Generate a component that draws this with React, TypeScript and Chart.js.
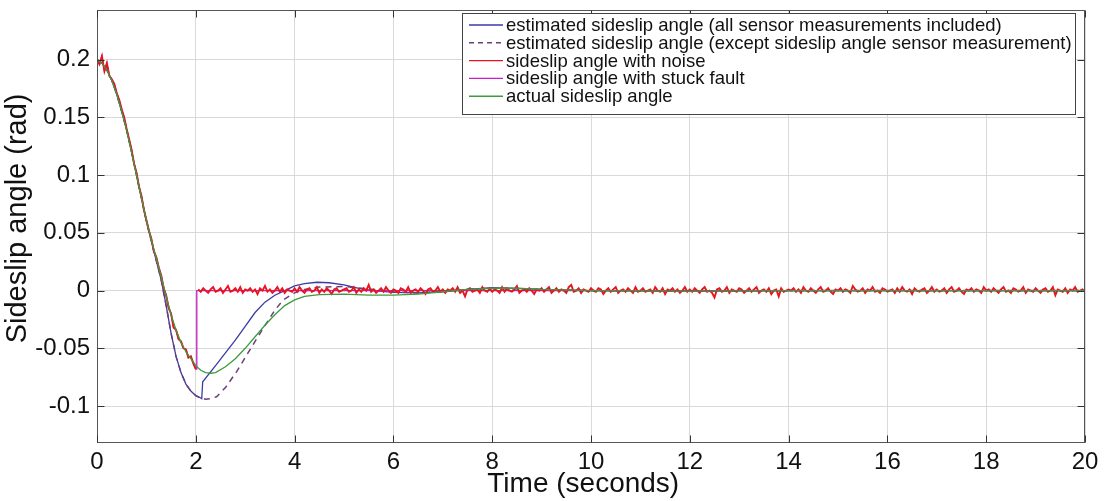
import React, { useEffect, useRef } from "react";
import { Chart, registerables } from "chart.js";

Chart.register(...registerables);

const FONT = "'Liberation Sans', Arial, Helvetica, sans-serif";

// x-axis ticks (seconds) and y-axis range (rad)
const xTicks = [0, 2, 4, 6, 8, 10, 12, 14, 16, 18, 20];
const yMin = -0.132;
const yMax = 0.243;

// actual sideslip angle
const actualTime = [0, 0.1, 0.2, 0.3, 0.4, 0.5, 0.6, 0.7, 0.8, 0.9, 1.0, 1.1, 1.2, 1.3, 1.4, 1.5, 1.6, 1.7, 1.8, 1.9, 2.0, 2.1, 2.2, 2.3, 2.4, 2.6, 2.8, 3.0, 3.2, 3.4, 3.6, 3.8, 4.0, 4.2, 4.5, 5.0, 5.5, 6.0, 6.5, 7.0, 7.5, 8.0, 8.5, 9.0, 10, 12, 14, 16, 20];
const actualValues = [0.2, 0.197, 0.191, 0.182, 0.170, 0.155, 0.139, 0.120, 0.100, 0.080, 0.061, 0.044, 0.028, 0.012, -0.005, -0.021, -0.034, -0.045, -0.053, -0.059, -0.065, -0.069, -0.071, -0.0716, -0.071, -0.066, -0.059, -0.050, -0.040, -0.030, -0.021, -0.013, -0.008, -0.005, -0.0035, -0.003, -0.004, -0.004, -0.003, -0.001, 0.001, 0.002, 0.002, 0.001, 0, -0.0005, 0, 0, 0];

// estimated sideslip angle (all sensor measurements included)
const estAllTime = [0, 0.1, 0.2, 0.3, 0.4, 0.5, 0.6, 0.7, 0.8, 0.9, 1.0, 1.1, 1.2, 1.3, 1.4, 1.5, 1.6, 1.7, 1.8, 1.9, 2.0, 2.1, 2.12, 2.14, 2.4, 2.6, 2.8, 3.0, 3.2, 3.4, 3.6, 3.8, 4.0, 4.2, 4.45, 4.7, 5.0, 5.3, 5.6, 6.0, 6.5, 7.0, 7.5, 8.0, 8.5, 9.0, 10, 12, 14, 20];
const estAllValues = [0.2, 0.197, 0.191, 0.182, 0.170, 0.155, 0.139, 0.120, 0.100, 0.080, 0.060, 0.043, 0.026, 0.009, -0.013, -0.037, -0.057, -0.071, -0.081, -0.087, -0.091, -0.093, -0.0935, -0.079, -0.065, -0.054, -0.043, -0.031, -0.019, -0.010, -0.004, 0.0, 0.004, 0.006, 0.0072, 0.0068, 0.005, 0.002, 0.0, -0.0015, -0.002, -0.001, 0.001, 0.0025, 0.002, 0.001, 0, -0.0005, 0, 0];

// estimated sideslip angle (except sideslip angle sensor measurement)
const estExTime = [0, 0.1, 0.2, 0.3, 0.4, 0.5, 0.6, 0.7, 0.8, 0.9, 1.0, 1.1, 1.2, 1.3, 1.4, 1.5, 1.6, 1.7, 1.8, 1.9, 2.0, 2.1, 2.2, 2.3, 2.42, 2.6, 2.83, 3.0, 3.2, 3.36, 3.6, 3.77, 4.0, 4.2, 4.5, 5.0, 5.5, 6.0, 6.5, 7.0, 7.5, 8.0, 9.0, 10, 12, 14, 20];
const estExValues = [0.2, 0.197, 0.191, 0.182, 0.170, 0.155, 0.139, 0.120, 0.100, 0.080, 0.060, 0.043, 0.026, 0.009, -0.013, -0.037, -0.057, -0.071, -0.081, -0.087, -0.091, -0.093, -0.094, -0.0935, -0.092, -0.084, -0.070, -0.058, -0.044, -0.033, -0.017, -0.008, -0.002, 0.001, 0.003, 0.0035, 0.0015, -0.001, -0.002, -0.001, 0.001, 0.002, 0.001, 0, -0.0005, 0, 0];

// noisy sensor signal, sampled every 0.05 s (values in mrad)
const noiseStep = 0.05;
const noisyHeadMrad = [200, 196, 203, 190, 197, 186, 183, 179, 171, 165, 157, 150, 140, 131, 122, 110, 102, 90, 82, 70, 61, 52, 45, 34, 29, 20, 13, 2, -4, -15, -20, -32, -34, -42, -44, -50, -51, -58, -57, -63, -68];
const faultTime = 2.02;
const noisyTailStart = 2.05;
const noisyTailMrad = [
  1, -1, 2, 0, -2, 1, 3, -1, 0, 2, -2, 1, 4, -1, 0, 2, -1, 3, -2, 1,
  0, 2, -1, 1, -3, 2, 0, 4, -1, 1, -2, 0, 3, -1, 2, -2, 1, 0, -1, 2,
  -1, 3, 0, -2, 1, 2, -1, 0, 3, -2, 1, -1, 2, 0, -3, 1, 2, -1, 0, 1,
  2, -1, 0, 3, -2, 1, -1, 2, 0, 5, -1, 1, -2, 0, 2, -1, 3, 0, -2, 1,
  0, -2, 2, 1, -1, 3, -2, 0, 1, -1, 2, 0, -3, 1, 2, -1, 0, 3, -1, 1,
  -2, 1, 0, 2, -1, 3, -2, 0, -5, 1, 2, -1, 0, 1, -2, 3, 0, -1, 2, -1,
  1, 0, -2, 3, -1, 2, 0, -1, 1, 4, -2, 0, 1, -1, 2, 0, -3, 1, 0, 2,
  -1, 1, 3, -2, 0, 2, -1, 1, 0, -2, 3, 5, -1, 0, 2, -2, 1, 0, -1, 2,
  0, -1, 2, 1, -3, 0, 2, -1, 1, 3, -2, 0, 1, -1, 2, 0, -2, 3, -1, 0,
  2, -1, 0, 1, -2, 3, 0, -1, 2, -3, 1, 0, 2, -1, 1, -2, 0, 3, -1, 1,
  -1, 2, 0, -2, 1, 3, -1, 0, -2, -6, 1, 2, -1, 0, 3, -2, 1, 0, -1, 2,
  1, -2, 0, 2, -1, 1, 3, -2, 0, 1, -1, 2, -3, 0, 1, -5, 2, -1, 0, 1,
  0, 2, -1, 1, -2, 3, 0, -1, 2, 0, -2, 1, 3, -1, 0, 2, -1, -3, 1, 0,
  2, -1, 1, 0, -2, 4, 1, -1, 0, 2, -2, 1, 0, 3, -1, 0, -2, 2, 1, -1,
  0, 1, -2, 2, -1, 3, 0, -1, 1, -3, 2, 0, -1, 1, 2, -2, 0, 3, -1, 1,
  -1, 0, 2, -2, 1, 3, -1, 0, 2, -1, -3, 1, 0, 2, -1, 1, 0, -2, 3, 0,
  1, -1, 2, 0, -2, 1, 3, -1, 0, -2, 2, 1, -1, 0, 3, -2, 1, 0, -1, 2,
  0, -2, 1, 2, -1, 0, 3, -4, 1, 0, -1, 2, -2, 1, 0, 3, -1, 0, 1, -1,
];
// stuck fault value after the fault time (rad)
const stuckValue = 0;
const endTime = 20;

const labels = {
  estAll: "estimated sideslip angle (all sensor measurements included)",
  estEx: "estimated sideslip angle (except sideslip angle sensor measurement)",
  noisy: "sideslip angle with noise",
  stuck: "sideslip angle with stuck fault",
  actual: "actual sideslip angle",
};

const colors = {
  estAll: "#3b3ba6",
  estEx: "#6a3f78",
  noisy: "#e8141e",
  stuck: "#c41fc8",
  actual: "#3e9a3e",
};

function pairs(t: number[], v: number[]) {
  return t.map((x, i) => ({ x, y: v[i] }));
}

const legendPlugin = {
  id: "boxLegend",
  afterDraw(chart: any) {
    const { ctx, chartArea: a } = chart;
    ctx.save();
    // frame around the axes
    ctx.strokeStyle = "#555555";
    ctx.lineWidth = 1;
    const L = Math.round(a.left) + 0.5;
    const R = Math.round(a.right) - 0.5;
    const T = Math.round(a.top) + 0.5;
    const B = Math.round(a.bottom) - 0.5;
    ctx.strokeRect(L, T, R - L, B - T);
    // inner tick marks on all four sides
    const tl = 7;
    ctx.strokeStyle = "#333333";
    ctx.beginPath();
    chart.scales.x.ticks.forEach((tk: any) => {
      const px = Math.round(chart.scales.x.getPixelForValue(tk.value)) + 0.5;
      ctx.moveTo(px, B);
      ctx.lineTo(px, B - tl);
      ctx.moveTo(px, T);
      ctx.lineTo(px, T + tl);
    });
    chart.scales.y.ticks.forEach((tk: any) => {
      const py = Math.round(chart.scales.y.getPixelForValue(tk.value)) + 0.5;
      ctx.moveTo(L, py);
      ctx.lineTo(L + tl, py);
      ctx.moveTo(R, py);
      ctx.lineTo(R - tl, py);
    });
    ctx.stroke();

    // legend box
    const order = ["estAll", "estEx", "noisy", "stuck", "actual"];
    const fontSize = 18.5;
    ctx.font = `${fontSize}px ${FONT}`;
    const maxW = Math.max(...order.map((k) => ctx.measureText((labels as any)[k]).width));
    const boxRight = Math.round(a.right) - 9;
    const boxTop = Math.round(a.top) + 3;
    const boxW = Math.round(44 + maxW + 4);
    const boxLeft = boxRight - boxW;
    const rowH = 17.8;
    const boxH = 102;
    ctx.fillStyle = "#ffffff";
    ctx.fillRect(boxLeft, boxTop, boxW, boxH);
    ctx.strokeStyle = "#444444";
    ctx.lineWidth = 1;
    ctx.strokeRect(boxLeft + 0.5, boxTop + 0.5, boxW - 1, boxH - 1);
    ctx.textBaseline = "middle";
    ctx.textAlign = "left";
    order.forEach((k, i) => {
      const y = boxTop + 12 + i * rowH;
      ctx.beginPath();
      ctx.strokeStyle = (colors as any)[k];
      ctx.lineWidth = 1.4;
      ctx.setLineDash(k === "estEx" ? [5, 4] : []);
      ctx.moveTo(boxLeft + 7, y);
      ctx.lineTo(boxLeft + 41, y);
      ctx.stroke();
      ctx.setLineDash([]);
      ctx.fillStyle = "#111111";
      ctx.fillText((labels as any)[k], boxLeft + 44, y + 1);
    });
    ctx.restore();
  },
};

export default function App() {
  const canvasRef = useRef<HTMLCanvasElement | null>(null);

  useEffect(() => {
    document.body.style.margin = "0";
    const canvas = canvasRef.current;
    if (!canvas) return;

    const noisyData: any[] = noisyHeadMrad.map((v, i) => ({ x: i * noiseStep, y: v / 1000 }));
    noisyData.push({ x: faultTime, y: null });
    noisyTailMrad.forEach((v, i) => noisyData.push({ x: noisyTailStart + i * noiseStep, y: v / 1000 }));

    const stuckData: any[] = noisyHeadMrad.map((v, i) => ({ x: i * noiseStep, y: v / 1000 }));
    stuckData.push({ x: faultTime, y: noisyHeadMrad[noisyHeadMrad.length - 1] / 1000 });
    stuckData.push({ x: faultTime, y: stuckValue });
    stuckData.push({ x: endTime, y: stuckValue });

    const chart = new Chart(canvas, {
      type: "line",
      data: {
        datasets: [
          {
            label: labels.estAll,
            data: pairs(estAllTime, estAllValues),
            borderColor: colors.estAll,
            borderWidth: 1.3,
            pointRadius: 0,
            order: 4,
          },
          {
            label: labels.estEx,
            data: pairs(estExTime, estExValues),
            borderColor: colors.estEx,
            borderWidth: 1.5,
            borderDash: [6, 5],
            pointRadius: 0,
            order: 3,
          },
          {
            label: labels.noisy,
            data: noisyData,
            borderColor: colors.noisy,
            borderWidth: 1.9,
            pointRadius: 0,
            spanGaps: false,
            order: 1,
          },
          {
            label: labels.stuck,
            data: stuckData,
            borderColor: colors.stuck,
            borderWidth: 1.3,
            pointRadius: 0,
            order: 2,
          },
          {
            label: labels.actual,
            data: pairs(actualTime, actualValues),
            borderColor: colors.actual,
            borderWidth: 1.3,
            pointRadius: 0,
            order: 0,
          },
        ],
      },
      options: {
        animation: false,
        responsive: false,
        devicePixelRatio: 1,
        layout: { padding: { left: 0, right: 20, top: 10, bottom: 0 } },
        plugins: {
          legend: { display: false },
          tooltip: { enabled: false },
        },
        scales: {
          x: {
            type: "linear",
            min: xTicks[0],
            max: xTicks[xTicks.length - 1],
            afterBuildTicks: (s: any) => {
              s.ticks = xTicks.map((v) => ({ value: v }));
            },
            ticks: {
              font: { family: FONT, size: 24 },
              color: "#111111",
              padding: 5,
              maxRotation: 0,
              autoSkip: false,
            },
            grid: { color: "#d9d9d9", drawTicks: false, lineWidth: 1 },
            border: { display: false },
            title: {
              display: true,
              text: "Time (seconds)  ",
              font: { family: FONT, size: 28 },
              color: "#111111",
              padding: { top: 0, bottom: 0 },
            },
            afterFit: (s: any) => {
              s.height = 58;
              s.paddingLeft = 0;
              s.paddingRight = 0;
            },
          },
          y: {
            type: "linear",
            min: yMin,
            max: yMax,
            ticks: {
              stepSize: 0.05,
              includeBounds: false,
              font: { family: FONT, size: 24 },
              color: "#111111",
              padding: 7,
              callback: (v: any) => String(Number(Number(v).toFixed(2))),
            },
            grid: { color: "#d9d9d9", drawTicks: false, lineWidth: 1 },
            border: { display: false },
            title: {
              display: true,
              text: "  Sideslip angle (rad)",
              font: { family: FONT, size: 29 },
              color: "#111111",
              padding: { top: 1, bottom: 0 },
            },
            afterFit: (s: any) => {
              s.width = 97;
              s.paddingTop = 0;
              s.paddingBottom = 0;
            },
          },
        },
      },
      plugins: [legendPlugin],
    });

    return () => {
      chart.destroy();
    };
  }, []);

  return (
    <div style={{ width: 1105, height: 501, background: "#ffffff" }}>
      <canvas ref={canvasRef} width={1105} height={501} style={{ display: "block" }} />
    </div>
  );
}
